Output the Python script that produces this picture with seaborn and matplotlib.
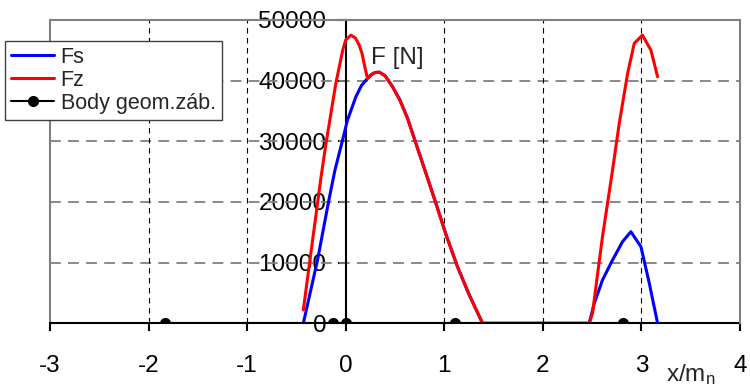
import matplotlib
matplotlib.use("Agg")
import matplotlib.pyplot as plt
from matplotlib.lines import Line2D
import seaborn as sns

sns.set_style("white")
plt.rcParams["font.family"] = ["Liberation Sans", "DejaVu Sans"]
plt.rcParams["mathtext.fontset"] = "custom"
plt.rcParams["mathtext.rm"] = "Liberation Sans"
plt.rcParams["mathtext.it"] = "Liberation Sans:italic"
plt.rcParams["axes.unicode_minus"] = False

# ── data ──
fs_x = [-0.43, -0.286, -0.174, -0.11, -0.032, 0.018, 0.103, 0.16, 0.221,
        0.26, 0.30, 0.34, 0.40, 0.475, 0.55, 0.627, 0.712, 0.80, 0.915,
        1.02, 1.134, 1.25, 1.388, 2.47, 2.52, 2.605, 2.707, 2.808, 2.893,
        2.995, 3.08, 3.164]
fs_y = [0, 10430, 20040, 25200, 30200, 33500, 37340, 39200, 40370,
        41000, 41350, 41400, 40800, 39000, 36800, 33800, 29660, 25400, 19780,
        14500, 9330, 4800, 0, 0, 3200, 7140, 10430, 13450, 15100,
        12620, 6590, 0]

fz_x = [-0.43, -0.35, -0.25, -0.2, -0.1, -0.03, 0.0, 0.053, 0.10, 0.137,
        0.165, 0.195, 0.221, 0.26, 0.30, 0.34, 0.40, 0.475, 0.55, 0.627,
        0.712, 0.80, 0.915, 1.02, 1.134, 1.25, 1.388, 2.47, 2.504, 2.55,
        2.605, 2.707, 2.775, 2.86, 2.927, 3.01, 3.096, 3.164]
fz_y = [2200, 12000, 24150, 29660, 39550, 45040, 46700, 47510, 47000, 45860,
        44500, 42200, 40370, 41000, 41350, 41400, 40800, 39000, 36800, 33800,
        29660, 25400, 19780, 14500, 9330, 4800, 0, 0, 1650, 7500,
        14270, 25260, 32960, 41200, 46140, 47510, 45040, 40640]

body_x = [-1.834, -0.134, 0.0, 1.108, 2.818]
body_y = [0, 0, 0, 0, 0]

x_ticks = [-3, -2, -1, 0, 1, 2, 3, 4]
y_ticks = [0, 10000, 20000, 30000, 40000, 50000]

fig = plt.figure(figsize=(7.5, 3.87), dpi=100)
ax = fig.add_axes([50 / 750, 63.7 / 387, 690 / 750, 303.3 / 387])

# grid
for yv in y_ticks[1:-1]:
    ax.axhline(yv, color="#808080", lw=1.3, ls=(0, (6, 4)), zorder=1)
for xv in [-2, -1, 1, 2, 3]:
    ax.axvline(xv, color="black", lw=0.8, ls=(0, (5, 4)), zorder=1)

sns.lineplot(x=body_x, y=body_y, color="black", lw=1.5, marker="o",
             markersize=8, markeredgewidth=0, label="Body geom.záb.",
             sort=False, estimator=None, ax=ax, zorder=5)
sns.lineplot(x=fs_x, y=fs_y, color="#0000ff", lw=2.2, label="Fs",
             sort=False, estimator=None, ax=ax, zorder=3)
sns.lineplot(x=fz_x, y=fz_y, color="#ff0000", lw=2.2, label="Fz",
             sort=False, estimator=None, ax=ax, zorder=4)

ax.set_xlim(-3, 4)
ax.set_ylim(0, 50000)
ax.set_xticks(x_ticks)
ax.set_xticklabels([str(v) for v in x_ticks])
ax.set_yticks(y_ticks)
ax.set_yticklabels([str(v) for v in y_ticks])
ax.set_xlabel("")
ax.set_ylabel("")

ax.spines["left"].set_position(("data", 0))
ax.spines["left"].set_color("black")
ax.spines["left"].set_linewidth(1.5)
ax.spines["bottom"].set_color("black")
ax.spines["bottom"].set_linewidth(1.5)
ax.spines["bottom"].set_zorder(2)
for s in ["top", "right"]:
    ax.spines[s].set_color("#808080")
    ax.spines[s].set_linewidth(1.5)
ax.add_line(Line2D([0, 0], [0, 1], transform=ax.transAxes, color="#808080",
                   lw=1.5, clip_on=False, zorder=1))

ax.tick_params(axis="both", which="both", direction="out", length=6,
               width=1.5, colors="black", labelsize=17.5)
ax.tick_params(axis="x", pad=17, bottom=True, left=False)
ax.tick_params(axis="y", pad=8, left=True)

ax.text(0.256, 42740, "F [N]", fontsize=17.5, va="baseline", ha="left")
fig.text(666 / 750, 6 / 387, "x/m$_\\mathrm{n}$", fontsize=17.5,
         va="baseline")

h, l = ax.get_legend_handles_labels()
order = [l.index("Fs"), l.index("Fz"), l.index("Body geom.záb.")]
leg = ax.legend([h[i] for i in order], [l[i] for i in order],
                loc="upper left", bbox_to_anchor=(5 / 750, 1 - 40.7 / 387),
                bbox_transform=fig.transFigure, borderaxespad=0,
                fontsize=15.5, frameon=True, fancybox=False, framealpha=1,
                edgecolor="#404040", handlelength=2.0, handletextpad=0.3,
                labelspacing=0.1, borderpad=0.28, numpoints=1)
leg.get_frame().set_linewidth(1.0)

fig.savefig("out.png", dpi=100)
